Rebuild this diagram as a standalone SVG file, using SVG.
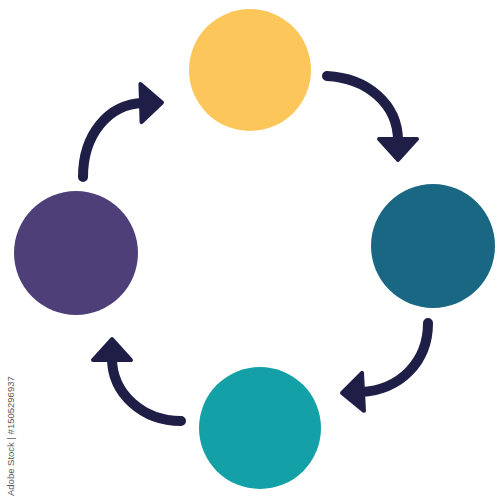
<svg xmlns="http://www.w3.org/2000/svg" width="500" height="500" viewBox="0 0 500 500">
<style>
.arc{fill:none;stroke:#1F1E47;stroke-width:10;stroke-linecap:round}
.wm{font-family:"Liberation Sans",Arial,sans-serif;font-size:9.5px;fill:#5a5a5a}
</style>
<defs>
<marker id="ah" markerUnits="userSpaceOnUse" viewBox="-3 -3 28 44" markerWidth="28" markerHeight="44" refX="2" refY="19" orient="auto">
<path d="M0,0 L21,19 L0,38 Z" fill="#1F1E47" stroke="#1F1E47" stroke-width="4" stroke-linejoin="round"/>
</marker>
</defs>
<rect width="500" height="500" fill="#ffffff"/>
<g id="node-yellow"><circle cx="250" cy="70" r="61" fill="#FDC65A"/></g>
<g id="node-darkteal"><circle cx="433" cy="246" r="62" fill="#196782"/></g>
<g id="node-teal"><circle cx="260" cy="428" r="61" fill="#13A0A6"/></g>
<g id="node-purple"><circle cx="76" cy="253" r="62" fill="#4E3F78"/></g>
<g id="connectors">
<path class="arc" d="M83,177 C83,135 108,104 143,103" marker-end="url(#ah)"/>
<path class="arc" d="M327,76 C366,78 398,103 398,141" marker-end="url(#ah)"/>
<path class="arc" d="M428,323 C428,362 400,390 361,392" marker-end="url(#ah)"/>
<path class="arc" d="M181,421 C143,421 112,394 112,358" marker-end="url(#ah)"/>
</g>
<text class="wm" transform="translate(14,496) rotate(-90)">Adobe Stock | #1505296937</text>
</svg>
